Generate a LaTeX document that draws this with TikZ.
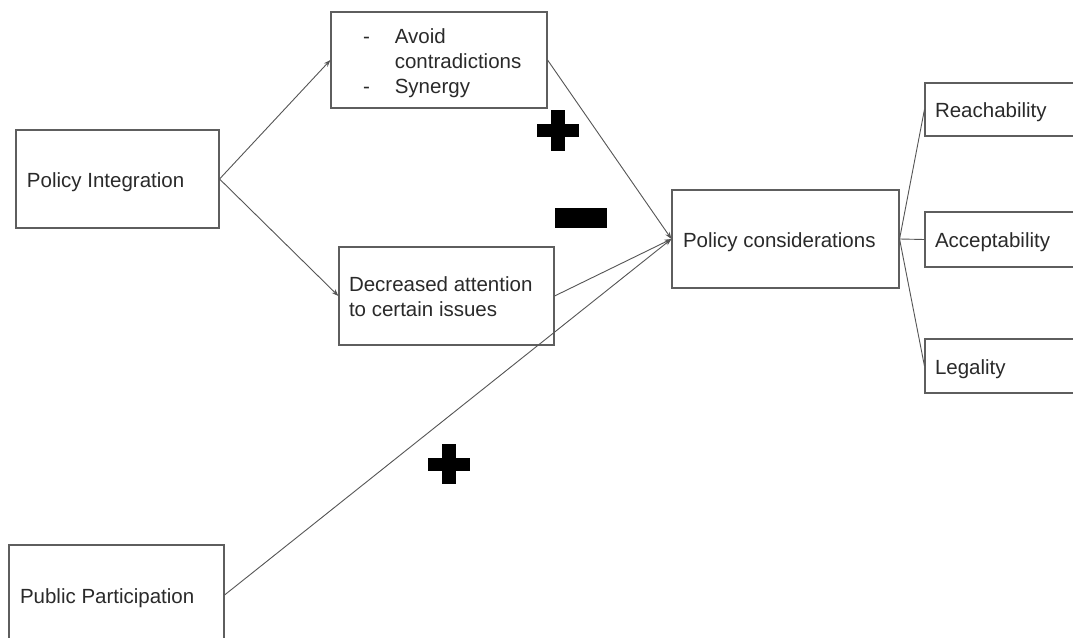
\documentclass[tikz,border=0pt]{standalone}
\usepackage{fontspec}
\setmainfont{Liberation Sans}
\usetikzlibrary{arrows.meta}
\definecolor{boxline}{HTML}{5E5E5E}
\definecolor{linkline}{HTML}{555555}
\definecolor{txt}{HTML}{2A2A2A}
% left-aligned text block of fixed width, set slightly below the box centre
\newcommand\boxtext[2]{\raisebox{0pt}[\dimexpr\height+6pt\relax][\depth]{\makebox[#1][l]{#2}}}
\newcommand\lines[1]{\begin{tabular}{@{}l@{}}#1\end{tabular}}
\tikzset{
  box/.style={draw=boxline, line width=1.1pt, rectangle, inner ysep=0pt,
    text=txt, font=\fontsize{20.5pt}{25pt}\selectfont},
  link/.style={draw=linkline, line width=0.9pt},
  arrowlink/.style={link, -{Stealth[length=7pt,width=5pt]}},
  sign/.style={fill=black, draw=none}
}
\begin{document}
\begin{tikzpicture}[x=1pt,y=-1pt]
  \useasboundingbox (0,0) rectangle (1073,637);
  \fill[white] (0,0) rectangle (1073,637);
  \clip (0,0) rectangle (1073,637);

  % boxes
  \node[box, minimum height=98pt, inner xsep=11pt] (pi) at (117.5,179)
    {\boxtext{181pt}{Policy Integration}};
  \node[box, minimum height=96pt, inner xsep=32pt] (goals) at (439,60)
    {\boxtext{152pt}{\begin{tabular}{@{}l@{\hspace{25pt}}l@{}}-&Avoid\\&contradictions\\-&Synergy\end{tabular}}};
  \node[box, minimum height=98pt, inner xsep=10pt] (dec) at (446.5,296)
    {\boxtext{195pt}{\lines{Decreased attention\\to certain issues}}};
  \node[box, minimum height=98pt, inner xsep=11pt] (pc) at (785.5,239)
    {\boxtext{205pt}{Policy considerations}};
  \node[box, minimum height=53pt, inner xsep=10pt] (reach) at (1005,109.5)
    {\boxtext{140pt}{Reachability}};
  \node[box, minimum height=55pt, inner xsep=10pt] (acc) at (1005,239.5)
    {\boxtext{140pt}{Acceptability}};
  \node[box, minimum height=54pt, inner xsep=10pt] (leg) at (1005,366)
    {\boxtext{140pt}{Legality}};
  \node[box, minimum height=100pt, inner xsep=11pt] (pp) at (116.5,595)
    {\boxtext{193pt}{Public Participation}};

  % influence arrows
  \draw[arrowlink] (pi.east) -- (goals.west);
  \draw[arrowlink] (pi.east) -- (dec.west);
  \draw[arrowlink] (goals.east) -- (pc.west);
  \draw[arrowlink] (dec.east) -- (pc.west);
  \draw[arrowlink] (pp.east) -- (pc.west);

  % branches to the considerations
  \draw[link] (pc.east) -- (reach.west);
  \draw[link] (pc.east) -- (acc.west);
  \draw[link] (pc.east) -- (leg.west);

  % effect signs
  \fill[sign] (537,123.5) rectangle (579,136.5);
  \fill[sign] (551,110) rectangle (565,151);
  \fill[sign] (555,208) rectangle (607,228);
  \fill[sign] (428,457.5) rectangle (470,470.5);
  \fill[sign] (442,444) rectangle (456,484);
\end{tikzpicture}
\end{document}
